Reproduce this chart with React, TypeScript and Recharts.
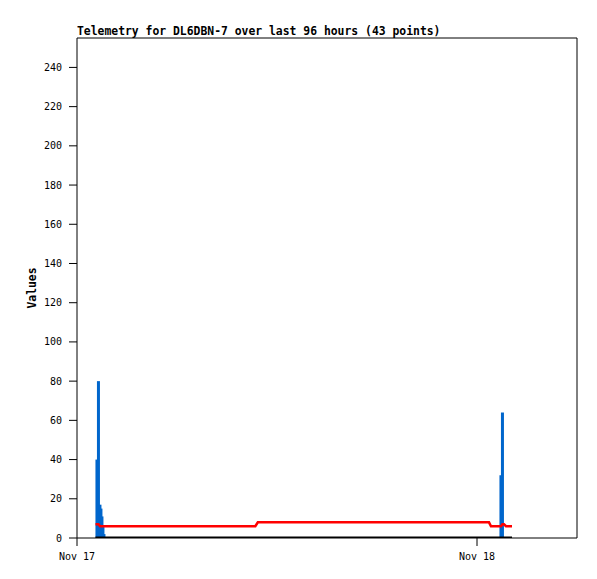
import { ComposedChart, Line, Bar, XAxis, YAxis, ReferenceLine } from "recharts";

// hours since Nov 17 00:00
const hours = [
  1.11, 1.2, 1.29, 1.38, 1.44, 1.5, 1.56, 1.62, 1.68,
  2.4, 3.3, 4.2, 5.1, 6.0, 6.9, 7.8, 8.7, 9.6, 10.7, 10.85, 11.8, 12.8, 13.8, 14.8,
  15.8, 16.8, 17.8, 18.8, 19.8, 20.8, 21.8, 22.8, 23.8,
  24.72, 24.84, 25.08, 25.32, 25.44, 25.53, 25.62, 25.74, 25.92, 26.1,
];
const blueValues = [
  0, 40, 80, 17, 15, 11, 6, 2, 0,
  0, 0, 0, 0, 0, 0, 0, 0, 0, 0, 0, 0, 0, 0, 0,
  0, 0, 0, 0, 0, 0, 0, 0, 0,
  0, 0, 0, 0, 32, 64, 0, 0, 0, 0,
];
const redValues = [
  7, 7, 7, 6, 6, 6, 6, 6, 6,
  6, 6, 6, 6, 6, 6, 6, 6, 6, 6, 8, 8, 8, 8, 8,
  8, 8, 8, 8, 8, 8, 8, 8, 8,
  8, 6, 6, 6, 6, 7, 7, 6, 6, 6,
];
const blackValues = hours.map(() => 0);

const xTicks = [0, 24];
const xTickLabels = ["Nov 17", "Nov 18"];
const yTicks = [0, 20, 40, 60, 80, 100, 120, 140, 160, 180, 200, 220, 240];

const data = hours.map((h, i) => ({
  h,
  blue: blueValues[i],
  red: redValues[i],
  black: blackValues[i],
}));

const mono = "'DejaVu Sans Mono', monospace";
const tickStyle = { fontSize: 10, fill: "#000", fontFamily: mono };

// impulse: fixed 3px wide stick centred on the bar slot
const Impulse = (props: any) => {
  const { x, y, width, height } = props;
  if (!height || height <= 0) return null;
  const cx = x + width / 2;
  return <rect x={cx - 1.5} y={y} width={3} height={height} fill="#0066cc" />;
};

export default function App() {
  return (
    <div style={{ position: "absolute", left: 0, top: 0, width: 597, height: 579, background: "#fff" }}>
      <div
        style={{
          position: "absolute",
          left: 77,
          top: 25,
          fontFamily: mono,
          fontWeight: "bold",
          fontSize: 11.4,
          lineHeight: "12px",
          whiteSpace: "nowrap",
        }}
      >
        Telemetry for DL6DBN-7 over last 96 hours (43 points)
      </div>
      <ComposedChart
        width={597}
        height={579}
        data={data}
        margin={{ top: 38, right: 20, bottom: 0, left: 0 }}
      >
        <XAxis
          type="number"
          dataKey="h"
          domain={[0, 30]}
          ticks={xTicks}
          tickFormatter={(v: number) => xTickLabels[xTicks.indexOf(v)]}
          tick={tickStyle}
          tickSize={8}
          tickMargin={7}
          height={41}
          stroke="#000"
          allowDataOverflow
        />
        <YAxis
          domain={[0, 255]}
          ticks={yTicks}
          tick={tickStyle}
          tickSize={8}
          tickMargin={7}
          width={77}
          stroke="#000"
          allowDataOverflow
          label={{
            value: "Values",
            angle: -90,
            position: "center",
            dx: -7,
            style: { fontFamily: mono, fontWeight: "bold", fontSize: 11.4, fill: "#000" },
          }}
        />
        <ReferenceLine y={255} stroke="#000" />
        <ReferenceLine x={30} stroke="#000" />
        <Line
          type="linear"
          dataKey="red"
          stroke="#ff0000"
          strokeWidth={2.5}
          dot={false}
          isAnimationActive={false}
        />
        <Bar dataKey="blue" fill="#0066cc" barSize={3} shape={Impulse} isAnimationActive={false} />
        <Line
          type="linear"
          dataKey="black"
          stroke="#000"
          strokeWidth={3}
          dot={false}
          isAnimationActive={false}
        />
      </ComposedChart>
    </div>
  );
}
